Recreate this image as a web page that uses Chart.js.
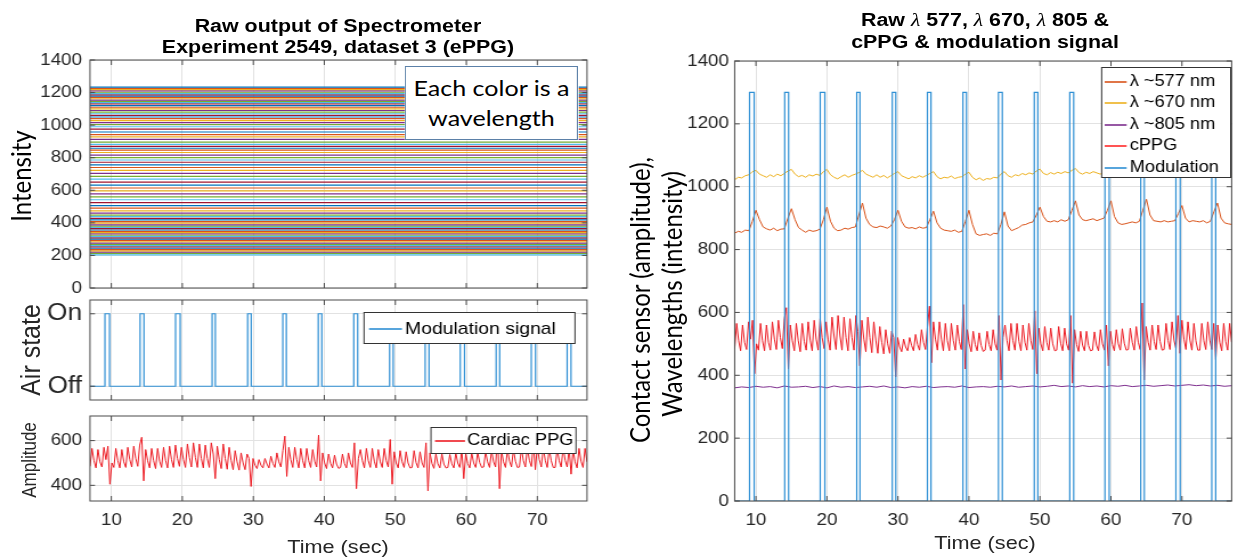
<!DOCTYPE html>
<html>
<head>
<meta charset="utf-8">
<script src="https://cdn.jsdelivr.net/npm/chart.js@4.4.1/dist/chart.umd.min.js"></script>
<style>
  html, body { margin: 0; padding: 0; background: #fff; overflow: hidden; }
  #stage { position: absolute; left: 0; top: 0; height: 559px; transform-origin: 0 0; }
  #stage canvas { position: absolute; }
  .txt { position: absolute; white-space: nowrap; transform: translate(-50%, -50%); color: #262626;
         font-family: 'Liberation Sans', Arial, sans-serif; text-align: center; }
  .rot { transform: translate(-50%, -50%) rotate(-90deg); }
  .ttl { font-weight: bold; font-size: 18.8px; color: #000; }
  .cal { font-family: Lato, 'Open Sans', sans-serif; color: #000; }
  .lam { font-family: 'Liberation Serif', serif; font-weight: normal; font-style: italic; }
  #note { position: absolute; background: #fff; border: 1.5px solid #5b80a8; box-sizing: border-box;
          font: 22px Lato, sans-serif; color: #000; text-align: center; line-height: 30px; padding-top: 6px; }
</style>
</head>
<body>
<div id="stage">
  <canvas id="spectrumChart"></canvas>
  <canvas id="airChart"></canvas>
  <canvas id="ppgChart"></canvas>
  <canvas id="rawChart"></canvas>
  <div id="note">Each color is a<br>wavelength</div>
</div>
<script>
// the source figure is stretched sideways, so the stage is drawn narrow and scaled
const S = 1.14;
const sx = v => v / S;

// MATLAB default colour order
const colors = ['#0072BD', '#D95319', '#EDB120', '#7E2F8E', '#77AC30', '#4DBEEE', '#A2142F'];
const modColor = '#2e8fd4';
const ppgColor = '#ec1c24';
const gridColor = '#e2e2e2';

// axes
const timeTicks = [10, 20, 30, 40, 50, 60, 70];
const intensityTicks = [0, 200, 400, 600, 800, 1000, 1200, 1400];
const airTicks = [0, 1];
const airLabels = ['Off', 'On'];
const ampTicks = [400, 600];

// spectrometer: mean level of each wavelength trace
const spectrumLevels = [
  1234, 1226, 1218, 1210, 1202, 1194, 1186, 1178, 1170, 1162, 1154, 1146, 1138, 1130, 1120,
  1110, 1100, 1090, 1080, 1070, 1060, 1050, 1040, 1028, 1016, 1004,
  990, 975, 958, 942, 928, 912, 896, 882, 870, 858, 846, 832, 816, 800, 786, 772, 756, 740,
  722, 704, 686, 668, 650, 632, 614, 596, 578, 560, 542, 524, 506, 490, 474, 460,
  448, 438, 428, 418, 408, 398, 388, 380, 372, 364, 356, 348, 340, 332, 324, 316, 308, 300,
  292, 284, 276, 268, 260, 252, 244, 236, 228, 220, 212, 204
];

// air modulation pulses (sec)
const modOn  = [9.1, 14.05, 19.05, 24.2, 29.2, 34.15, 39.15, 44.15, 49.2, 54.2, 59.15, 64.2, 69.15, 74.2];
const modOff = [9.75, 14.6, 19.7, 24.65, 29.7, 34.65, 39.65, 44.7, 49.7, 54.75, 59.75, 64.7, 69.75, 74.75];
const modHigh = 1300;

// cardiac PPG, sampled every 0.28 s from 7 s
const ppgStart = 7, ppgStep = 0.28;
const ppgValues = [
  485, 565, 510, 478, 560, 505, 482, 570, 515, 575, 405, 500, 480, 565, 510, 478, 560, 505,
  480, 570, 515, 482, 575, 520, 485, 580, 615, 420, 560, 510, 478, 565, 510, 475, 565, 508,
  480, 570, 512, 478, 575, 515, 480, 580, 520, 485, 570, 515, 480, 585, 525, 482, 590, 525,
  480, 585, 520, 478, 580, 520, 480, 590, 540, 430, 575, 515, 475, 585, 520, 472, 570, 512,
  470, 555, 505, 468, 545, 500, 470, 540, 520, 395, 520, 490, 475, 515, 490, 478, 520, 495,
  478, 530, 498, 480, 545, 505, 482, 555, 620, 440, 570, 515, 480, 570, 515, 478, 565, 510,
  478, 565, 510, 480, 560, 508, 482, 625, 420, 545, 500, 475, 540, 498, 478, 535, 495, 476,
  480, 540, 498, 478, 545, 500, 480, 590, 385, 520, 560, 510, 478, 565, 510, 480, 565, 508,
  478, 560, 505, 480, 565, 510, 482, 605, 405, 550, 500, 478, 555, 505, 480, 550, 500, 478,
  480, 555, 502, 478, 550, 500, 480, 590, 375, 545, 498, 476, 540, 496, 478, 540, 495, 478,
  480, 538, 496, 478, 545, 500, 480, 560, 430, 540, 498, 478, 545, 500, 480, 548, 502, 480,
  482, 550, 505, 480, 555, 505, 482, 630, 385, 555, 505, 480, 560, 508, 482, 560, 508, 480,
  482, 565, 510, 482, 570, 512, 484, 590, 470, 575, 515, 482, 570, 512, 480, 565, 510, 480,
  480, 565, 510, 482, 570, 512, 482, 565, 450, 560, 505, 478, 565, 508, 480, 565, 505, 480
];

// raw wavelengths, sampled every 0.5 s from 7 s
const rawStart = 7, rawStep = 0.5;
const lambda577 = [
  852, 858, 855, 862, 860, 890, 925, 895, 872, 866,
  862, 868, 860, 865, 866, 900, 930, 895, 870, 862,
  855, 862, 858, 860, 865, 895, 935, 890, 868, 860,
  862, 868, 865, 870, 872, 910, 948, 900, 880, 872,
  870, 875, 872, 868, 875, 895, 925, 890, 872, 868,
  870, 866, 872, 868, 870, 895, 922, 885, 868, 862,
  860, 858, 862, 855, 858, 890, 925, 880, 850, 845,
  848, 850, 845, 852, 850, 880, 920, 875, 860, 865,
  870, 878, 880, 885, 888, 910, 935, 905, 890, 888,
  892, 888, 895, 890, 895, 925, 955, 910, 895, 892,
  895, 898, 892, 896, 900, 925, 955, 905, 885, 880,
  882, 885, 888, 885, 890, 925, 960, 910, 892, 890,
  888, 892, 888, 890, 892, 915, 940, 900, 888, 892,
  890, 888, 892, 885, 890, 920, 948, 900, 885, 882,
  880
];
const lambda670 = [
  1022, 1030, 1028, 1035, 1038, 1048, 1052, 1040, 1035, 1030,
  1038, 1032, 1040, 1035, 1042, 1050, 1055, 1040, 1032, 1036,
  1030, 1038, 1034, 1040, 1036, 1048, 1055, 1038, 1030, 1025,
  1032, 1038, 1030, 1036, 1040, 1045, 1052, 1040, 1035, 1030,
  1038, 1030, 1036, 1028, 1035, 1042, 1048, 1035, 1030, 1025,
  1032, 1028, 1035, 1030, 1036, 1042, 1048, 1032, 1025, 1030,
  1028, 1034, 1026, 1030, 1032, 1040, 1046, 1030, 1022, 1028,
  1020, 1026, 1024, 1030, 1028, 1040, 1048, 1035, 1030, 1038,
  1035, 1042, 1038, 1044, 1040, 1050, 1056, 1042, 1038, 1045,
  1040, 1046, 1042, 1048, 1044, 1052, 1058, 1045, 1040, 1046,
  1042, 1048, 1044, 1040, 1046, 1050, 1055, 1040, 1035, 1042,
  1038, 1044, 1040, 1046, 1042, 1050, 1056, 1045, 1040, 1046,
  1042, 1048, 1044, 1040, 1046, 1052, 1055, 1045, 1040, 1046,
  1042, 1038, 1044, 1040, 1045, 1050, 1055, 1045, 1040, 1036,
  1040
];
// sampled every 1 s from 7 s
const lambda805 = [
  360, 363, 361, 365, 362, 364, 360, 366, 362, 363,
  365, 361, 364, 360, 366, 362, 364, 361, 363, 365,
  362, 366, 361, 363, 360, 364, 362, 365, 361, 363,
  364, 362, 366, 361, 363, 364, 362, 365, 363, 366,
  362, 364, 366, 363, 365, 368, 364, 366, 363, 367,
  364, 366, 363, 367, 365, 368, 364, 366, 368, 365,
  367, 369, 366, 368, 370, 367, 369, 366, 368, 365,
  367
];

const series = (vals, start, step) => vals.map((v, i) => ({ x: start + i * step, y: v }));
const modSeries = high => {
  const pts = [{ x: 7, y: 0 }];
  modOn.forEach((on, i) => {
    pts.push({ x: on, y: 0 }, { x: on, y: high }, { x: modOff[i], y: high }, { x: modOff[i], y: 0 });
  });
  pts.push({ x: 77, y: 0 });
  return pts;
};

const tickFont = { family: "'Liberation Sans', Arial, sans-serif", size: 16.5 };

// frame, inner ticks and in-axes legend, MATLAB style
const matlabFrame = {
  id: 'matlabFrame',
  afterDatasetsDraw(chart, args, opts) {
    const { ctx, chartArea: a, scales } = chart;
    ctx.save();
    ctx.strokeStyle = '#4a4a4a';
    ctx.lineWidth = 1;
    ctx.strokeRect(a.left, a.top, a.right - a.left, a.bottom - a.top);
    ctx.beginPath();
    scales.x.ticks.forEach(t => {
      const p = scales.x.getPixelForValue(t.value);
      ctx.moveTo(p, a.bottom); ctx.lineTo(p, a.bottom - 5);
      ctx.moveTo(p, a.top); ctx.lineTo(p, a.top + 5);
    });
    scales.y.ticks.forEach(t => {
      const p = scales.y.getPixelForValue(t.value);
      ctx.moveTo(a.left, p); ctx.lineTo(a.left + 4.4, p);
      ctx.moveTo(a.right, p); ctx.lineTo(a.right - 4.4, p);
    });
    ctx.stroke();

    if (opts.items) {
      const w = sx(opts.width), h = opts.height;
      const x0 = a.right - sx(opts.right) - w, y0 = Math.round(a.top + opts.top) + 0.5;
      ctx.fillStyle = '#fff';
      ctx.fillRect(x0, y0, w, h);
      ctx.strokeStyle = '#333';
      ctx.strokeRect(x0, y0, w, h);
      ctx.font = opts.size + "px 'Liberation Sans', Arial, sans-serif";
      ctx.textBaseline = 'middle';
      opts.items.forEach((it, i) => {
        const cy = Math.round(y0 + opts.first + i * (opts.rowH || 0));
        ctx.strokeStyle = it.color;
        ctx.lineWidth = 1.6;
        ctx.beginPath();
        ctx.moveTo(x0 + sx(opts.padL), cy);
        ctx.lineTo(x0 + sx(opts.padL + opts.sample), cy);
        ctx.stroke();
        ctx.fillStyle = '#000';
        ctx.fillText(it.label, x0 + sx(opts.padL + opts.sample + opts.gap), cy);
      });
    }
    ctx.restore();
  }
};
Chart.register(matlabFrame);

// box: canvas rect, area: plot rect (both in picture pixels)
function makeChart(id, box, area, datasets, yCfg, showX, legend) {
  const cv = document.getElementById(id);
  const cl = sx(box.left);
  const cw = Math.round(sx(box.left + box.w) - cl);
  cv.width = cw; cv.height = box.h;
  cv.style.left = cl + 'px'; cv.style.top = box.top + 'px';
  const yWidth = sx(area.L) - cl;
  const padRight = cw - (sx(area.R) - cl);
  const padTop = area.T - box.top;
  const xHeight = box.h - (area.B - box.top);

  return new Chart(cv, {
    type: 'line',
    data: { datasets },
    options: {
      responsive: false,
      animation: false,
      events: [],
      layout: { padding: { left: 0, right: padRight, top: padTop, bottom: 0 } },
      elements: { point: { radius: 0 }, line: { tension: 0 } },
      plugins: {
        legend: { display: false },
        tooltip: { enabled: false },
        matlabFrame: legend || {}
      },
      scales: {
        x: {
          type: 'linear', min: 7, max: 77,
          afterBuildTicks: s => { s.ticks = timeTicks.map(v => ({ value: v })); },
          afterFit: s => { s.height = xHeight; },
          grid: { color: gridColor, drawTicks: false },
          border: { display: false },
          ticks: { display: showX, padding: 10, font: tickFont, color: '#262626', maxRotation: 0 }
        },
        y: {
          type: 'linear', min: yCfg.min, max: yCfg.max,
          afterBuildTicks: s => { s.ticks = yCfg.ticks.map(v => ({ value: v })); },
          afterFit: s => { s.width = yWidth; },
          grid: { color: gridColor, drawTicks: false },
          border: { display: false },
          ticks: {
            padding: yCfg.pad || 7, color: '#262626',
            font: yCfg.font || tickFont,
            callback: yCfg.labels ? (v => yCfg.labels[yCfg.ticks.indexOf(v)]) : (v => v)
          }
        }
      }
    }
  });
}

// 1. spectrometer traces
makeChart('spectrumChart',
  { left: 0, top: 0, w: 590, h: 312 }, { L: 90, R: 587, T: 60, B: 288 },
  spectrumLevels.map((lv, i) => ({
    data: [{ x: 7, y: lv }, { x: 77, y: lv }],
    borderColor: colors[i % colors.length], borderWidth: 1.2
  })),
  { min: 0, max: 1400, ticks: intensityTicks }, false);

// 2. air state
makeChart('airChart',
  { left: 0, top: 278, w: 590, h: 144 }, { L: 90, R: 587, T: 300, B: 400 },
  [{ data: modSeries(1), borderColor: modColor, borderWidth: 1.2 }],
  { min: -0.19, max: 1.19, ticks: airTicks, labels: airLabels,
    font: { family: "'Liberation Sans', Arial, sans-serif", size: 23 } }, false,
  { items: [{ label: 'Modulation signal', color: modColor }],
    width: 211, height: 31, right: 12, top: 12, first: 16, padL: 5, sample: 33, gap: 3, size: 17 });

// 3. cardiac PPG
makeChart('ppgChart',
  { left: 0, top: 394, w: 590, h: 165 }, { L: 90, R: 587, T: 416, B: 501 },
  [{ data: series(ppgValues, ppgStart, ppgStep), borderColor: ppgColor, borderWidth: 1 }],
  { min: 330, max: 710, ticks: ampTicks }, true,
  { items: [{ label: 'Cardiac PPG', color: ppgColor }],
    width: 145, height: 26, right: 11, top: 11, first: 13, padL: 4, sample: 30, gap: 2, size: 16 });

// 4. raw wavelengths + cPPG + modulation
makeChart('rawChart',
  { left: 600, top: 0, w: 635, h: 559 }, { L: 735, R: 1232, T: 61, B: 501 },
  [
    { data: series(lambda577, rawStart, rawStep), borderColor: colors[1], borderWidth: 1, order: 5 },
    { data: series(lambda670, rawStart, rawStep), borderColor: colors[2], borderWidth: 1, order: 4 },
    { data: series(lambda805, rawStart, 1), borderColor: colors[3], borderWidth: 1, order: 3 },
    { data: series(ppgValues, ppgStart, ppgStep), borderColor: ppgColor, borderWidth: 1, order: 2 },
    { data: modSeries(modHigh), borderColor: modColor, borderWidth: 1.2, order: 1 }
  ],
  { min: 0, max: 1400, ticks: intensityTicks, pad: 5 }, true,
  { items: [
      { label: 'λ ~577 nm', color: colors[1] },
      { label: 'λ ~670 nm', color: colors[2] },
      { label: 'λ ~805 nm', color: colors[3] },
      { label: 'cPPG', color: '#ff2a2a' },
      { label: 'Modulation', color: modColor }
    ],
    width: 129, height: 110, right: 1, top: 6, first: 14, rowH: 21.5, padL: 3, sample: 22, gap: 3, size: 16 });

// texts, positions in picture pixels
const stage = document.getElementById('stage');
stage.style.width = sx(1235) + 'px';
stage.style.transform = 'scaleX(' + S + ')';

const texts = [
  { html: 'Raw output of Spectrometer', x: 338, y: 26, cls: 'ttl' },
  { html: 'Experiment 2549, dataset 3 (ePPG)', x: 338, y: 47, cls: 'ttl' },
  { html: 'Raw <span class="lam">λ</span> 577, <span class="lam">λ</span> 670, <span class="lam">λ</span> 805 &amp;', x: 985, y: 20, cls: 'ttl' },
  { html: 'cPPG &amp; modulation signal', x: 985, y: 42, cls: 'ttl' },
  { html: 'Intensity', x: 21, y: 176, cls: 'cal rot', size: 24 },
  { html: 'Air state', x: 31, y: 350, cls: 'rot', size: 25 },
  { html: 'Amplitude', x: 31, y: 460, cls: 'rot', size: 17 },
  { html: 'Time (sec)', x: 338, y: 547, size: 19 },
  { html: 'Time (sec)', x: 985, y: 543, size: 19 },
  { html: 'Contact sensor (amplitude),', x: 639, y: 300, cls: 'cal rot', size: 24 },
  { html: 'Wavelengths (intensity)', x: 671, y: 294, cls: 'cal rot', size: 24 }
];
texts.forEach(t => {
  const d = document.createElement('div');
  d.className = 'txt ' + (t.cls || '');
  d.innerHTML = t.html;
  d.style.left = sx(t.x) + 'px';
  d.style.top = t.y + 'px';
  if (t.size) d.style.fontSize = t.size + 'px';
  stage.appendChild(d);
});

const note = document.getElementById('note');
note.style.left = sx(405) + 'px';
note.style.top = '66px';
note.style.width = sx(578 - 405) + 'px';
note.style.height = '74px';
</script>
</body>
</html>
